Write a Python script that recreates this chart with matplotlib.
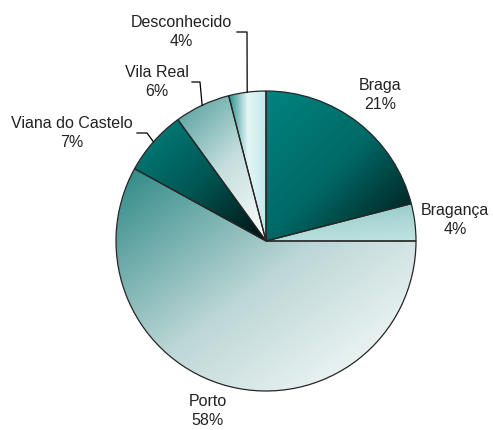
import matplotlib.pyplot as plt
import numpy as np
from matplotlib.colors import LinearSegmentedColormap

plt.rcParams['font.family'] = ['Liberation Sans', 'DejaVu Sans']

regions = ["Braga", "Bragança", "Porto", "Viana do Castelo", "Vila Real", "Desconhecido"]
shares = [21, 4, 58, 7, 6, 4]

# gradient stops per wedge and gradient direction (dx, dy) in screen sense
grad_colors = [
    ["#008480", "#006966", "#001414"],
    ["#86c2c0", "#a9d6d4", "#c0e4e2"],
    ["#2c8886", "#bcd7d6", "#ffffff"],
    ["#00837f", "#005754", "#001010"],
    ["#4e9c9a", "#c4dedd", "#ffffff"],
    ["#2a9290", "#e6f6f6", "#bfe8e8"],
]
grad_dirs = [(1, -1), (0.3, -1), (1, -1), (1, -1), (0.6, -1), (1, 0)]

# label anchor positions in pixel coordinates (x, y from top)
label_pos = [(380, 95), (455, 220), (208, 411), (72, 133), (157, 82), (181, 32)]
# leader elbow and end for labels that have one
leaders = {3: [(147, 133), (137, 133)], 4: [(200, 82), (192, 82)], 5: [(247, 32), (237, 32)]}

W, H = 493, 430
cx, cy, R = 266, 241, 150

fig = plt.figure(figsize=(W / 100, H / 100), dpi=100)
ax = fig.add_axes([0, 0, 1, 1])

wedges, _ = ax.pie(shares, center=(cx, H - cy), radius=R, startangle=90, counterclock=False,
                   wedgeprops=dict(facecolor="none", edgecolor="#262626", linewidth=0.9),
                   frame=True)
ax.set_xlim(0, W)
ax.set_ylim(0, H)
ax.axis("off")

for w, cols, (dx, dy) in zip(wedges, grad_colors, grad_dirs):
    ext = w.get_path().get_extents()
    X, Yd = np.meshgrid(np.linspace(0, 1, 200), np.linspace(0, 1, 200))
    t = X * dx - Yd * dy
    t = (t - t.min()) / (t.max() - t.min())
    cmap = LinearSegmentedColormap.from_list("g", cols)
    im = ax.imshow(t, cmap=cmap, extent=[ext.x0, ext.x1, ext.y0, ext.y1],
                   origin="upper", interpolation="bilinear", zorder=0, aspect="auto")
    im.set_clip_path(w)

for i, (name, val) in enumerate(zip(regions, shares)):
    lx, ly = label_pos[i]
    ax.text(lx, H - ly, f"{name}\n{val}%", ha="center", va="center", fontsize=11.5,
            color="#222222", linespacing=1.3)
    if i in leaders:
        th1 = 90 - sum(shares[:i]) * 3.6
        th2 = 90 - sum(shares[:i + 1]) * 3.6
        mid = np.radians((th1 + th2) / 2)
        pts = [(cx + R * np.cos(mid), H - cy + R * np.sin(mid))]
        pts += [(px, H - py) for px, py in leaders[i]]
        ax.plot([p[0] for p in pts], [p[1] for p in pts], color="black", lw=0.9)

fig.savefig("out.png", dpi=100)
